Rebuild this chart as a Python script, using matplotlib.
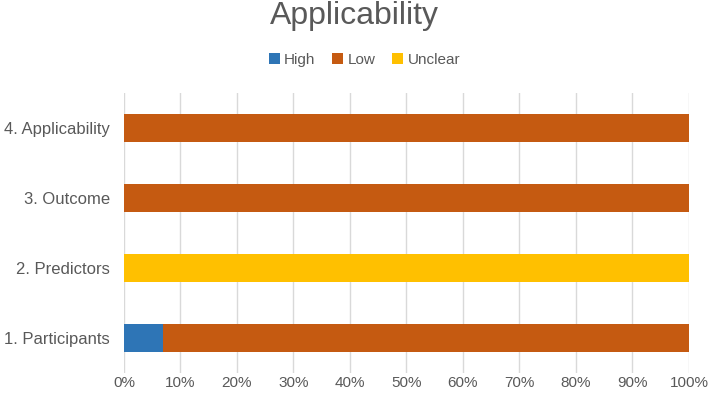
import matplotlib.pyplot as plt
import numpy as np

categories = ["1. Participants", "2. Predictors", "3. Outcome", "4. Applicability"]
high = [7, 0, 0, 0]
low = [93, 0, 100, 100]
unclear = [0, 100, 0, 0]

colors = {"High": "#2E75B6", "Low": "#C55A11", "Unclear": "#FFC000"}
text_col = "#595959"

plt.rcParams['font.family'] = ['Liberation Sans', 'DejaVu Sans']

fig = plt.figure(figsize=(7.08, 3.97), dpi=100)
ax = fig.add_axes([0.175, 0.06, 0.798, 0.706])

y = np.arange(len(categories))
left = np.zeros(len(categories))
for name, vals in [("High", high), ("Low", low), ("Unclear", unclear)]:
    ax.barh(y, vals, left=left, height=0.4, color=colors[name], label=name, zorder=3)
    left += np.array(vals)

ax.set_xlim(0, 100)
ax.set_ylim(-0.5, 3.5)
ax.set_yticks(y)
ax.set_yticklabels(categories, fontsize=12, color=text_col)
ax.set_xticks(np.arange(0, 101, 10))
ax.set_xticklabels([f"{v}%" for v in range(0, 101, 10)], fontsize=11, color=text_col)
ax.tick_params(axis='y', length=0, pad=10)
ax.tick_params(axis='x', length=0, pad=2)
ax.grid(axis='x', color="#D9D9D9", linewidth=1, zorder=0)
for s in ax.spines.values():
    s.set_visible(False)

fig.suptitle("Applicability", fontsize=23, color=text_col, y=0.998)
fig.legend(loc="center", bbox_to_anchor=(0.515, 0.85), ncol=3, frameon=False,
           fontsize=11, labelcolor=text_col, handlelength=0.7, handleheight=0.7,
           handletextpad=0.3, columnspacing=1.1)

fig.savefig("out.png", dpi=100)
